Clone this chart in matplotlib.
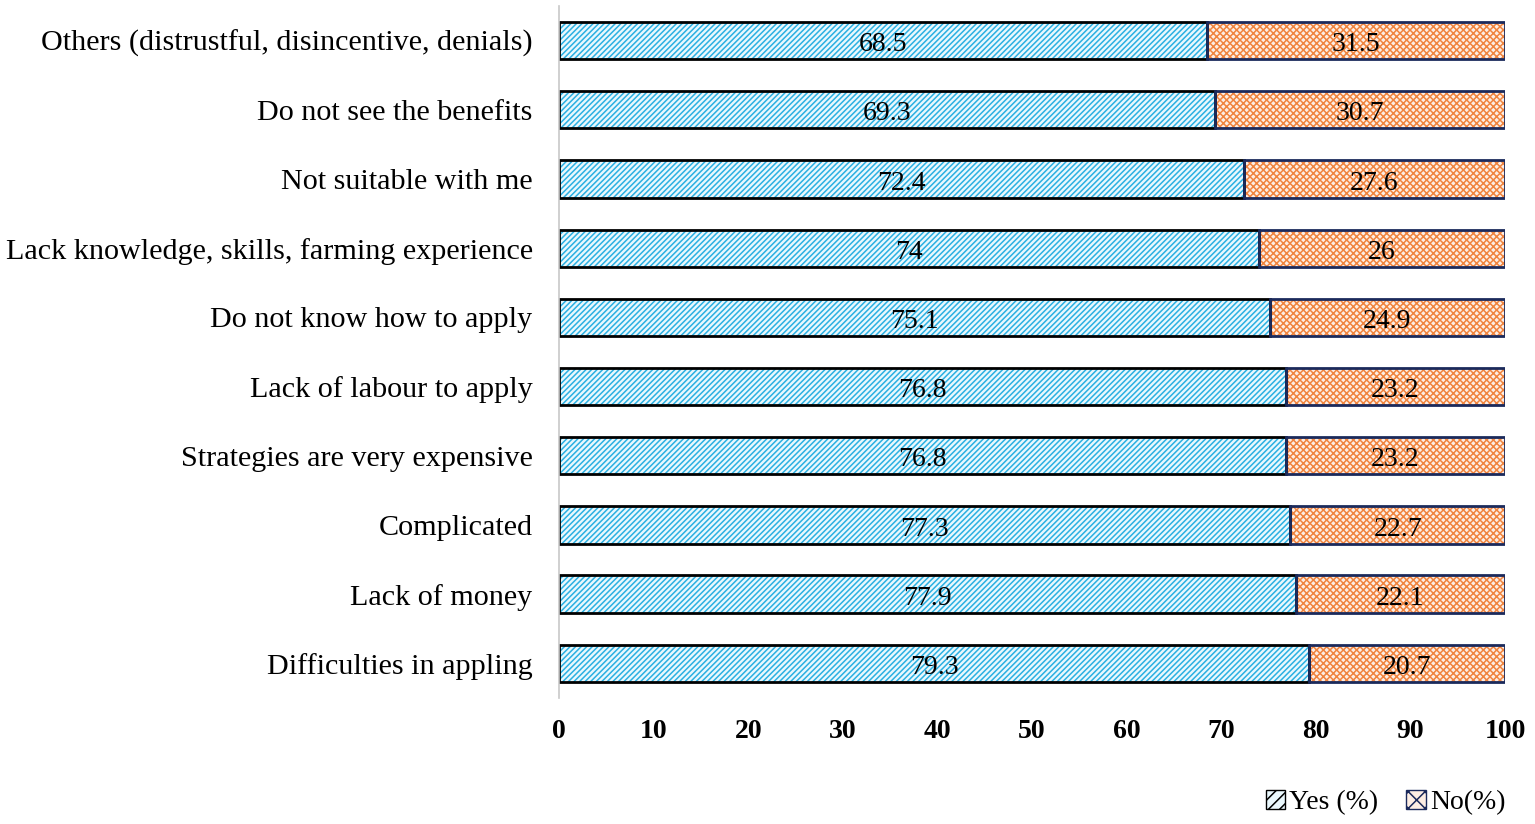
import matplotlib
import matplotlib.pyplot as plt
from matplotlib.patches import Patch

matplotlib.use('Agg')

# data, top to bottom as in the chart
categories = ['Others (distrustful, disincentive, denials)',
              'Do not see the benefits',
              'Not suitable with me',
              'Lack knowledge, skills, farming experience',
              'Do not know how to apply',
              'Lack of labour to apply',
              'Strategies are very expensive',
              'Complicated',
              'Lack of money',
              'Difficulties in appling']
yes_pct = [68.5, 69.3, 72.4, 74, 75.1, 76.8, 76.8, 77.3, 77.9, 79.3]
no_pct = [31.5, 30.7, 27.6, 26, 24.9, 23.2, 23.2, 22.7, 22.1, 20.7]
x_ticks = [0, 10, 20, 30, 40, 50, 60, 70, 80, 90, 100]

plt.rcParams['font.family'] = ['Liberation Serif', 'DejaVu Serif']
plt.rcParams['hatch.linewidth'] = 1.1

fig = plt.figure(figsize=(15.35, 8.24), dpi=100)
ax = fig.add_axes([0.3642, 0.153, 0.6163, 0.8397])

ypos = list(range(len(categories)))[::-1]
h = 0.54

# fills with hatching (hatch colour comes from edgecolor)
ax.barh(ypos, yes_pct, height=h, color='#eaf8fd', edgecolor='#2bb0e2',
        hatch='//////', linewidth=0)
ax.barh(ypos, no_pct, left=yes_pct, height=h, color='#fdeee4',
        edgecolor='#f0843e', hatch='xxxxx', linewidth=0)
# outlines
ax.barh(ypos, yes_pct, height=h, color='none', edgecolor='black', linewidth=2)
ax.barh(ypos, no_pct, left=yes_pct, height=h, color='none',
        edgecolor='#1b2a5c', linewidth=2)

for y, a, b in zip(ypos, yes_pct, no_pct):
    ax.text(a / 2, y - 0.06, f'{a:g}', ha='center', va='center', fontsize=20)
    ax.text(a + b / 2, y - 0.06, f'{b:g}', ha='center', va='center', fontsize=20)

ax.set_xlim(0, 100)
ax.set_ylim(-0.5, len(categories) - 0.5)
ax.set_xticks(x_ticks)
ax.set_xticklabels([str(t) for t in x_ticks], fontsize=20, fontweight='bold')
ax.set_yticks(ypos)
ax.set_yticklabels(categories, fontsize=21.7)
ax.tick_params(axis='x', length=0, pad=15)
ax.tick_params(axis='y', length=0, pad=19)

for s in ['top', 'right', 'bottom']:
    ax.spines[s].set_visible(False)
ax.spines['left'].set_color('#c8c8c8')
ax.spines['left'].set_linewidth(1.2)

handles = [Patch(facecolor='#eaf8fd', edgecolor='black', hatch='///', label='Yes (%)'),
           Patch(facecolor='#fdeee4', edgecolor='#1b2a5c', hatch='xx', label='No(%)')]
fig.legend(handles=handles, loc='center right', bbox_to_anchor=(0.997, 0.026),
           ncol=2, frameon=False, fontsize=20, handlelength=0.7, handleheight=0.7,
           handletextpad=0.15, columnspacing=1.0)

fig.savefig('out.png', dpi=100)
